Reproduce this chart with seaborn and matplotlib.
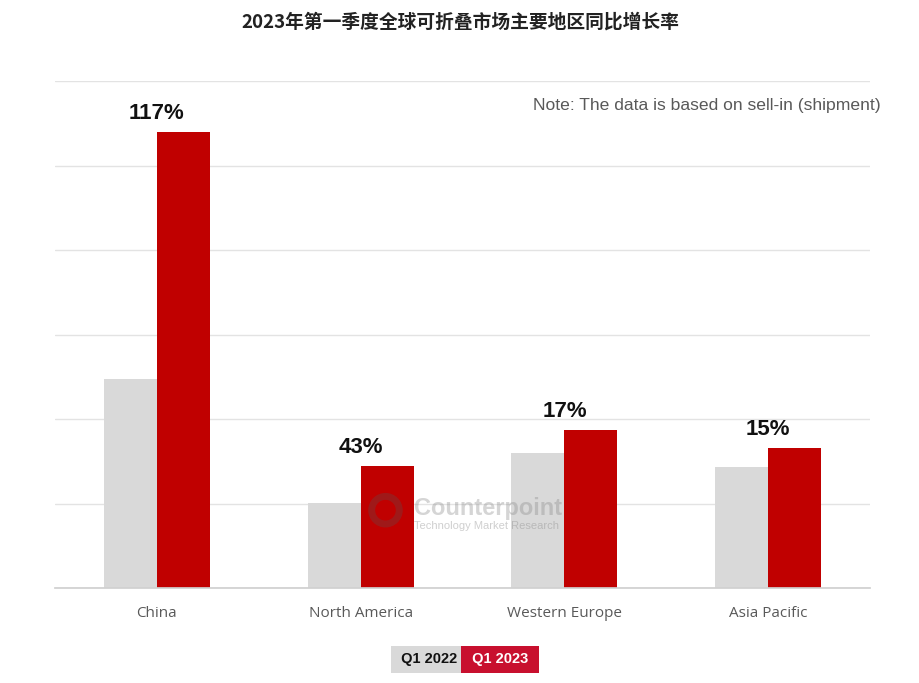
import pandas as pd
import numpy as np
import matplotlib
matplotlib.use('Agg')
import matplotlib.pyplot as plt
from matplotlib.patches import Ellipse
import seaborn as sns

# Data (bar heights in gridline units)
regions = ['China', 'North America', 'Western Europe', 'Asia Pacific']
q1_2022 = [2.47, 1.01, 1.60, 1.43]
q1_2023 = [5.40, 1.44, 1.87, 1.66]
growth_labels = ['117%', '43%', '17%', '15%']
series = ['Q1 2022', 'Q1 2023']

grey = '#d9d9d9'
red = '#c00000'

df = pd.DataFrame({
    'Region': regions * 2,
    'Quarter': [series[0]] * 4 + [series[1]] * 4,
    'Value': q1_2022 + q1_2023
})

sns.set_theme(style='white')
plt.rcParams['font.family'] = ['Liberation Sans', 'Noto Sans CJK SC', 'DejaVu Sans']

fig = plt.figure(figsize=(9.2, 6.83), dpi=100)
ax = fig.add_axes([0.0598, 0.139, 0.886, 0.742])

sns.barplot(
    data=df, x='Region', y='Value', hue='Quarter',
    palette=[grey, red], width=0.52, gap=0, saturation=1,
    linewidth=0, legend=False, ax=ax
)

ax.set_xlim(-0.5, 3.5)
ax.set_ylim(0, 6)
ax.set_yticks(range(0, 7))
ax.yaxis.grid(True, color='#e3e3e3', linewidth=1)
ax.set_axisbelow(True)
ax.set_yticklabels([])
ax.tick_params(axis='y', length=0)
ax.tick_params(axis='x', length=0, pad=13)
for t in ax.get_xticklabels():
    t.set_family('Open Sans')
    t.set_fontsize(11)
    t.set_color('#595959')
ax.set_xlabel('')
ax.set_ylabel('')
for side in ['top', 'left', 'right']:
    ax.spines[side].set_visible(False)
ax.spines['bottom'].set_color('#d0d0d0')

# growth labels above the 2023 bars (centred on the group)
for i, lab in enumerate(growth_labels):
    ax.annotate(lab, (i, q1_2023[i]), xytext=(0, 6), textcoords='offset points',
                ha='center', va='bottom', fontsize=16, fontweight='bold', color='#111111')

# note
fig.text(0.957, 0.846, 'Note: The data is based on sell-in (shipment)',
         ha='right', va='center', fontsize=12.6, color='#595959')

# watermark
fig.text(0.450, 0.246, 'Counterpoint', fontsize=17, fontweight='bold', color='#888888', alpha=0.35)
fig.text(0.450, 0.226, 'Technology Market Research', fontsize=8, color='#888888', alpha=0.4)
fig.add_artist(Ellipse((0.419, 0.253), 0.030, 0.030 * 920 / 683, transform=fig.transFigure,
                       fill=False, edgecolor='#555555', linewidth=5, alpha=0.3))

# title
fig.text(0.5, 0.968, '2023年第一季度全球可折叠市场主要地区同比增长率', ha='center', va='center',
         fontsize=13.5, fontweight='bold', color='#222222',
         family=['Noto Sans CJK SC', 'DejaVu Sans'])

# legend boxes
fig.text(0.502, 0.035, ' Q1 2022 ', ha='right', va='center', fontsize=10.5, fontweight='bold',
         color='#111111', bbox=dict(boxstyle='square,pad=0.45', facecolor=grey, edgecolor='none'))
fig.text(0.5085, 0.035, ' Q1 2023 ', ha='left', va='center', fontsize=10.5, fontweight='bold',
         color='white', bbox=dict(boxstyle='square,pad=0.45', facecolor='#c8102e', edgecolor='none'))

fig.savefig('out.png', dpi=100)
